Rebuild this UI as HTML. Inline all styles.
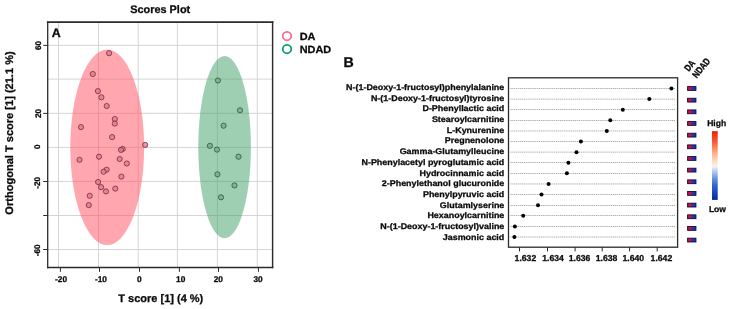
<!DOCTYPE html>
<html><head><meta charset="utf-8"><title>Scores Plot</title>
<style>html,body{margin:0;padding:0;background:#fff;}body{width:730px;height:309px;overflow:hidden;}svg{display:block;will-change:transform;filter:blur(0.3px);}text{font-family:"Liberation Sans", sans-serif;font-weight:bold;fill:#0a0a0a;stroke:#0a0a0a;stroke-width:0.28px;text-rendering:geometricPrecision;}</style>
</head><body>
<svg width="730" height="309" viewBox="0 0 730 309">
<rect x="0" y="0" width="730" height="309" fill="#ffffff"/>
<g stroke="#d5d5d5" stroke-width="1">
<line x1="58.5" y1="22.1" x2="58.5" y2="267.5"/>
<line x1="98.5" y1="22.1" x2="98.5" y2="267.5"/>
<line x1="138.2" y1="22.1" x2="138.2" y2="267.5"/>
<line x1="177.4" y1="22.1" x2="177.4" y2="267.5"/>
<line x1="217.4" y1="22.1" x2="217.4" y2="267.5"/>
<line x1="257.3" y1="22.1" x2="257.3" y2="267.5"/>
<line x1="47.7" y1="45.3" x2="272.6" y2="45.3"/>
<line x1="47.7" y1="79.1" x2="272.6" y2="79.1"/>
<line x1="47.7" y1="113.3" x2="272.6" y2="113.3"/>
<line x1="47.7" y1="147.4" x2="272.6" y2="147.4"/>
<line x1="47.7" y1="181.4" x2="272.6" y2="181.4"/>
<line x1="47.7" y1="215.5" x2="272.6" y2="215.5"/>
<line x1="47.7" y1="249.5" x2="272.6" y2="249.5"/>
</g>
<ellipse cx="107.2" cy="147.3" rx="36.9" ry="97.8" fill="#ff4d5f" fill-opacity="0.5"/>
<ellipse cx="224.6" cy="147.2" rx="26.3" ry="91.1" fill="#3f9f68" fill-opacity="0.5"/>
<g fill="#ea778d" fill-opacity="0.8" stroke="#6a2a38" stroke-width="0.75">
<circle cx="109.1" cy="53.2" r="2.6"/>
<circle cx="92.8" cy="74.0" r="2.6"/>
<circle cx="97.9" cy="91.1" r="2.6"/>
<circle cx="101.4" cy="97.3" r="2.6"/>
<circle cx="106.7" cy="106.0" r="2.6"/>
<circle cx="114.8" cy="119.0" r="2.6"/>
<circle cx="114.8" cy="123.6" r="2.6"/>
<circle cx="81.0" cy="127.1" r="2.6"/>
<circle cx="112.1" cy="137.1" r="2.6"/>
<circle cx="145.2" cy="144.9" r="2.6"/>
<circle cx="122.7" cy="149.0" r="2.6"/>
<circle cx="121.0" cy="149.9" r="2.6"/>
<circle cx="99.0" cy="156.7" r="2.6"/>
<circle cx="79.5" cy="159.8" r="2.6"/>
<circle cx="119.7" cy="159.0" r="2.6"/>
<circle cx="126.8" cy="163.5" r="2.6"/>
<circle cx="106.6" cy="169.7" r="2.6"/>
<circle cx="103.6" cy="171.7" r="2.6"/>
<circle cx="121.4" cy="176.6" r="2.6"/>
<circle cx="98.1" cy="182.0" r="2.6"/>
<circle cx="101.1" cy="187.2" r="2.6"/>
<circle cx="115.3" cy="188.6" r="2.6"/>
<circle cx="106.0" cy="191.4" r="2.6"/>
<circle cx="89.7" cy="195.8" r="2.6"/>
<circle cx="88.8" cy="205.1" r="2.6"/>
</g>
<g fill="#74ad89" fill-opacity="0.8" stroke="#2c4f38" stroke-width="0.75">
<circle cx="217.9" cy="80.5" r="2.6"/>
<circle cx="240.0" cy="110.3" r="2.6"/>
<circle cx="223.6" cy="125.7" r="2.6"/>
<circle cx="209.9" cy="145.8" r="2.6"/>
<circle cx="217.0" cy="149.6" r="2.6"/>
<circle cx="238.5" cy="156.7" r="2.6"/>
<circle cx="217.4" cy="174.3" r="2.6"/>
<circle cx="234.5" cy="185.4" r="2.6"/>
<circle cx="221.0" cy="197.3" r="2.6"/>
</g>
<g stroke="#2b2b2b" stroke-linecap="square">
<line x1="47.7" y1="22.1" x2="272.6" y2="22.1" stroke-width="1.7"/>
<line x1="272.6" y1="22.1" x2="272.6" y2="267.5" stroke-width="1.45"/>
<line x1="47.7" y1="267.5" x2="272.6" y2="267.5" stroke-width="1.4"/>
<line x1="47.7" y1="22.1" x2="47.7" y2="267.5" stroke-width="1.3"/>
</g>
<g stroke="#2a2a2a" stroke-width="1">
<line x1="60.4" y1="267.5" x2="60.4" y2="271.8"/>
<line x1="99.5" y1="267.5" x2="99.5" y2="271.8"/>
<line x1="139.5" y1="267.5" x2="139.5" y2="271.8"/>
<line x1="179.4" y1="267.5" x2="179.4" y2="271.8"/>
<line x1="218.5" y1="267.5" x2="218.5" y2="271.8"/>
<line x1="258.4" y1="267.5" x2="258.4" y2="271.8"/>
<line x1="43.2" y1="45.4" x2="47.7" y2="45.4"/>
<line x1="43.2" y1="113.4" x2="47.7" y2="113.4"/>
<line x1="43.2" y1="181.5" x2="47.7" y2="181.5"/>
<line x1="43.2" y1="215.5" x2="47.7" y2="215.5"/>
<line x1="43.2" y1="249.5" x2="47.7" y2="249.5"/>
</g>
<text x="61.1" y="282.2" font-size="8.3" text-anchor="middle">-20</text>
<text x="100.9" y="282.2" font-size="8.3" text-anchor="middle">-10</text>
<text x="139.3" y="282.2" font-size="8.3" text-anchor="middle">0</text>
<text x="180.7" y="282.2" font-size="8.3" text-anchor="middle">10</text>
<text x="218.3" y="282.2" font-size="8.3" text-anchor="middle">20</text>
<text x="258.0" y="282.2" font-size="8.3" text-anchor="middle">30</text>
<text transform="translate(41.0,45.5) rotate(-90)" font-size="8.2" text-anchor="middle">60</text>
<text transform="translate(41.0,113.4) rotate(-90)" font-size="8.2" text-anchor="middle">20</text>
<text transform="translate(40.3,146.7) rotate(-90)" font-size="8.2" text-anchor="middle">0</text>
<text transform="translate(40.4,182.8) rotate(-90)" font-size="8.2" text-anchor="middle">-20</text>
<text transform="translate(39.9,250.3) rotate(-90)" font-size="8.2" text-anchor="middle">-60</text>
<text x="160.2" y="13.1" font-size="10.9" text-anchor="middle">Scores Plot</text>
<text x="160.8" y="302.2" font-size="11" text-anchor="middle">T score [1] (4 %)</text>
<text transform="translate(12.8,133.0) rotate(-90)" font-size="11.05" text-anchor="middle">Orthogonal T score [1] (21.1 %)</text>
<text x="51.8" y="36.7" font-size="12.4">A</text>
<circle cx="287" cy="36" r="4.25" fill="none" stroke="#ff668a" stroke-width="1.75"/>
<circle cx="287" cy="49" r="4.25" fill="none" stroke="#00a05e" stroke-width="1.75"/>
<text transform="translate(299.7,39.5) scale(1.05,1)" font-size="10.4">DA</text>
<text transform="translate(299.7,52.7) scale(1.05,1)" font-size="10.4">NDAD</text>
<text x="343.6" y="66.6" font-size="14.2">B</text>
<g stroke="#9c9c9c" stroke-width="0.85" stroke-dasharray="1.2 0.7">
<line x1="510.4" y1="88.50" x2="675.3" y2="88.50"/>
<line x1="510.4" y1="99.11" x2="675.3" y2="99.11"/>
<line x1="510.4" y1="109.50" x2="675.3" y2="109.50"/>
<line x1="510.4" y1="120.50" x2="675.3" y2="120.50"/>
<line x1="510.4" y1="130.93" x2="675.3" y2="130.93"/>
<line x1="510.4" y1="141.50" x2="675.3" y2="141.50"/>
<line x1="510.4" y1="152.14" x2="675.3" y2="152.14"/>
<line x1="510.4" y1="162.50" x2="675.3" y2="162.50"/>
<line x1="510.4" y1="173.50" x2="675.3" y2="173.50"/>
<line x1="510.4" y1="183.96" x2="675.3" y2="183.96"/>
<line x1="510.4" y1="194.50" x2="675.3" y2="194.50"/>
<line x1="510.4" y1="205.50" x2="675.3" y2="205.50"/>
<line x1="510.4" y1="215.50" x2="675.3" y2="215.50"/>
<line x1="510.4" y1="226.50" x2="675.3" y2="226.50"/>
<line x1="510.4" y1="237.00" x2="675.3" y2="237.00"/>
</g>
<g fill="#000">
<circle cx="671.4" cy="88.50" r="2.0"/>
<circle cx="649.3" cy="99.11" r="2.0"/>
<circle cx="622.8" cy="109.71" r="2.0"/>
<circle cx="610.3" cy="120.32" r="2.0"/>
<circle cx="606.8" cy="130.93" r="2.0"/>
<circle cx="580.9" cy="141.53" r="2.0"/>
<circle cx="576.5" cy="152.14" r="2.0"/>
<circle cx="568.4" cy="162.75" r="2.0"/>
<circle cx="566.9" cy="173.36" r="2.0"/>
<circle cx="548.6" cy="183.96" r="2.0"/>
<circle cx="541.5" cy="194.57" r="2.0"/>
<circle cx="538.0" cy="205.18" r="2.0"/>
<circle cx="523.2" cy="215.78" r="2.0"/>
<circle cx="514.9" cy="226.39" r="2.0"/>
<circle cx="514.4" cy="237.00" r="2.0"/>
</g>
<rect x="508.5" y="77.8" width="169.1" height="169.4" fill="none" stroke="#2a2a2a" stroke-width="1.3"/>
<text transform="translate(504.3,89.90) scale(1.09,1)" font-size="8.2" text-anchor="end">N-(1-Deoxy-1-fructosyl)phenylalanine</text>
<text transform="translate(504.3,100.60) scale(1.09,1)" font-size="8.2" text-anchor="end">N-(1-Deoxy-1-fructosyl)tyrosine</text>
<text transform="translate(504.3,111.30) scale(1.09,1)" font-size="8.2" text-anchor="end">D-Phenyllactic acid</text>
<text transform="translate(504.3,122.00) scale(1.09,1)" font-size="8.2" text-anchor="end">Stearoylcarnitine</text>
<text transform="translate(504.3,132.70) scale(1.09,1)" font-size="8.2" text-anchor="end">L-Kynurenine</text>
<text transform="translate(504.3,143.40) scale(1.09,1)" font-size="8.2" text-anchor="end">Pregnenolone</text>
<text transform="translate(504.3,154.10) scale(1.09,1)" font-size="8.2" text-anchor="end">Gamma-Glutamylleucine</text>
<text transform="translate(504.3,164.80) scale(1.09,1)" font-size="8.2" text-anchor="end">N-Phenylacetyl pyroglutamic acid</text>
<text transform="translate(504.3,175.50) scale(1.09,1)" font-size="8.2" text-anchor="end">Hydrocinnamic acid</text>
<text transform="translate(504.3,186.20) scale(1.09,1)" font-size="8.2" text-anchor="end">2-Phenylethanol glucuronide</text>
<text transform="translate(504.3,196.90) scale(1.09,1)" font-size="8.2" text-anchor="end">Phenylpyruvic acid</text>
<text transform="translate(504.3,207.60) scale(1.09,1)" font-size="8.2" text-anchor="end">Glutamlyserine</text>
<text transform="translate(504.3,218.30) scale(1.09,1)" font-size="8.2" text-anchor="end">Hexanoylcarnitine</text>
<text transform="translate(504.3,229.00) scale(1.09,1)" font-size="8.2" text-anchor="end">N-(1-Deoxy-1-fructosyl)valine</text>
<text transform="translate(504.3,239.70) scale(1.09,1)" font-size="8.2" text-anchor="end">Jasmonic acid</text>
<g stroke="#2a2a2a" stroke-width="1">
<line x1="519.5" y1="247.2" x2="519.5" y2="251.4"/>
<line x1="547.5" y1="247.2" x2="547.5" y2="251.4"/>
<line x1="575.1" y1="247.2" x2="575.1" y2="251.4"/>
<line x1="602.2" y1="247.2" x2="602.2" y2="251.4"/>
<line x1="629.6" y1="247.2" x2="629.6" y2="251.4"/>
<line x1="657.2" y1="247.2" x2="657.2" y2="251.4"/>
</g>
<text x="525.4" y="261.3" font-size="8.65" text-anchor="middle">1.632</text>
<text x="553.1" y="261.3" font-size="8.65" text-anchor="middle">1.634</text>
<text x="579.5" y="261.3" font-size="8.65" text-anchor="middle">1.636</text>
<text x="606.6" y="261.3" font-size="8.65" text-anchor="middle">1.638</text>
<text x="633.3" y="261.3" font-size="8.65" text-anchor="middle">1.640</text>
<text x="661.4" y="261.3" font-size="8.65" text-anchor="middle">1.642</text>
<defs><linearGradient id="hs" x1="0" y1="0" x2="1" y2="0"><stop offset="0" stop-color="#c00e3c"/><stop offset="0.34" stop-color="#d01044"/><stop offset="0.5" stop-color="#6a1c84"/><stop offset="0.66" stop-color="#123cc8"/><stop offset="1" stop-color="#1030b4"/></linearGradient></defs>
<rect x="687.6" y="86.60" width="8.35" height="3.8" fill="url(#hs)" stroke="#160a30" stroke-width="0.9"/>
<rect x="687.6" y="98.26" width="8.35" height="3.8" fill="url(#hs)" stroke="#160a30" stroke-width="0.9"/>
<rect x="687.6" y="109.92" width="8.35" height="3.8" fill="url(#hs)" stroke="#160a30" stroke-width="0.9"/>
<rect x="687.6" y="121.58" width="8.35" height="3.8" fill="url(#hs)" stroke="#160a30" stroke-width="0.9"/>
<rect x="687.6" y="133.24" width="8.35" height="3.8" fill="url(#hs)" stroke="#160a30" stroke-width="0.9"/>
<rect x="687.6" y="144.90" width="8.35" height="3.8" fill="url(#hs)" stroke="#160a30" stroke-width="0.9"/>
<rect x="687.6" y="156.56" width="8.35" height="3.8" fill="url(#hs)" stroke="#160a30" stroke-width="0.9"/>
<rect x="687.6" y="168.22" width="8.35" height="3.8" fill="url(#hs)" stroke="#160a30" stroke-width="0.9"/>
<rect x="687.6" y="179.88" width="8.35" height="3.8" fill="url(#hs)" stroke="#160a30" stroke-width="0.9"/>
<rect x="687.6" y="191.54" width="8.35" height="3.8" fill="url(#hs)" stroke="#160a30" stroke-width="0.9"/>
<rect x="687.6" y="203.20" width="8.35" height="3.8" fill="url(#hs)" stroke="#160a30" stroke-width="0.9"/>
<rect x="687.6" y="214.86" width="8.35" height="3.8" fill="url(#hs)" stroke="#160a30" stroke-width="0.9"/>
<rect x="687.6" y="226.52" width="8.35" height="3.8" fill="url(#hs)" stroke="#160a30" stroke-width="0.9"/>
<rect x="687.6" y="238.18" width="8.35" height="3.8" fill="url(#hs)" stroke="#160a30" stroke-width="0.9"/>
<text transform="translate(688.8,72.1) rotate(-51) scale(0.9,1.12)" font-size="8.6">DA</text>
<text transform="translate(696.8,78.7) rotate(-51) scale(0.9,1.12)" font-size="8.6">NDAD</text>
<defs><linearGradient id="cb" x1="0" y1="0" x2="0" y2="1"><stop offset="0" stop-color="#d41a0c"/><stop offset="0.03" stop-color="#f82810"/><stop offset="0.14" stop-color="#ff5030"/><stop offset="0.235" stop-color="#ff8258"/><stop offset="0.33" stop-color="#fdb490"/><stop offset="0.42" stop-color="#fdd6bc"/><stop offset="0.5" stop-color="#fbf0e6"/><stop offset="0.53" stop-color="#e6ecf6"/><stop offset="0.56" stop-color="#c4d8f8"/><stop offset="0.61" stop-color="#a0c0f0"/><stop offset="0.69" stop-color="#6890e0"/><stop offset="0.79" stop-color="#3464d2"/><stop offset="0.88" stop-color="#1a4ac2"/><stop offset="0.97" stop-color="#0a32a4"/><stop offset="1" stop-color="#08288c"/></linearGradient></defs>
<rect x="712.0" y="131.2" width="5.7" height="68.7" fill="url(#cb)"/>
<text x="707.2" y="125.9" font-size="8.5">High</text>
<text x="708.9" y="211.6" font-size="8.55">Low</text>
</svg></body></html>
